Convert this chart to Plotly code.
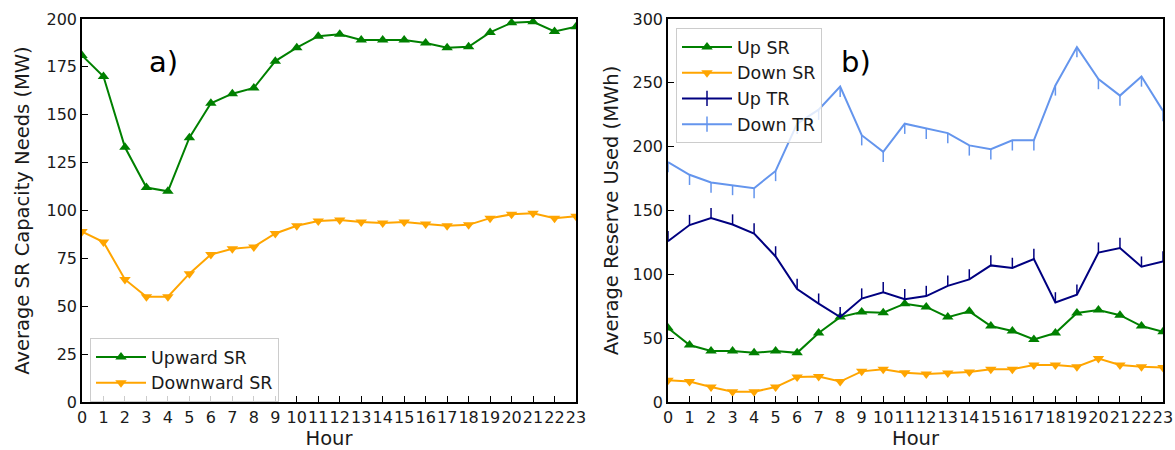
import plotly.graph_objects as go

hours = list(range(24))
tick_labels = [str(h) for h in hours]

upward_sr = [181, 170, 133, 112, 110, 138, 156, 161, 164, 178, 185, 191, 192, 189, 189, 189,
             187.5, 185, 185.5, 193, 198, 198.5, 193.5, 196]
downward_sr = [89, 83.5, 64, 55, 55, 67, 77, 80, 81, 88, 92, 94.5, 95, 94, 93.5, 94,
               93, 92, 92.5, 96, 98, 98.5, 96, 97]

up_sr = [58, 44.6, 40, 40, 38.5, 40, 38.5, 54, 66.5, 70.5, 70, 77, 74.5, 66.5, 71, 59.5,
         55.6, 49, 54, 69.7, 72, 68, 59.5, 55]
down_sr = [17, 16, 11.7, 8, 8, 11.7, 19.6, 20, 16, 24, 25.6, 23, 22, 22.7, 23.5, 25.6,
           25.6, 29, 29, 27.6, 34, 29, 27.6, 27]
up_tr = [126, 138.6, 144, 139, 132, 114, 88.5, 77, 66.5, 81, 86, 80.5, 83, 91, 96, 107,
         105, 112, 78, 84, 117, 120.6, 106, 110]
down_tr = [188, 178, 172, 170, 167.5, 181, 218, 229, 247, 209, 196, 218, 214, 210.6, 201, 198,
           205, 205, 248, 278, 253, 240, 255, 228]

GREEN = "#008000"
ORANGE = "#FFA500"
NAVY = "#000080"
CBLUE = "#6495ED"
FONT = "DejaVu Sans"
TXT = "#1a1a1a"

fig = go.Figure()

# Left panel
fig.add_trace(go.Scatter(x=hours, y=upward_sr, mode="lines+markers", name="Upward SR",
                         line=dict(color=GREEN, width=2),
                         marker=dict(symbol="triangle-up", size=10, color=GREEN),
                         xaxis="x", yaxis="y", legend="legend"))
fig.add_trace(go.Scatter(x=hours, y=downward_sr, mode="lines+markers", name="Downward SR",
                         line=dict(color=ORANGE, width=2),
                         marker=dict(symbol="triangle-down", size=10, color=ORANGE),
                         xaxis="x", yaxis="y", legend="legend"))

# Right panel
fig.add_trace(go.Scatter(x=hours, y=up_sr, mode="lines+markers", name="Up SR",
                         line=dict(color=GREEN, width=2),
                         marker=dict(symbol="triangle-up", size=10, color=GREEN),
                         xaxis="x2", yaxis="y2", legend="legend2"))
fig.add_trace(go.Scatter(x=hours, y=down_sr, mode="lines+markers", name="Down SR",
                         line=dict(color=ORANGE, width=2),
                         marker=dict(symbol="triangle-down", size=10, color=ORANGE),
                         xaxis="x2", yaxis="y2", legend="legend2"))

tick_len = 8
fig.add_trace(go.Scatter(x=hours, y=up_tr, mode="lines", name="Up TR", showlegend=False,
                         line=dict(color=NAVY, width=2),
                         error_y=dict(type="data", symmetric=False, array=[tick_len] * 24,
                                      arrayminus=[0] * 24, color=NAVY, thickness=1.5, width=0),
                         xaxis="x2", yaxis="y2"))
fig.add_trace(go.Scatter(x=hours, y=down_tr, mode="lines", name="Down TR", showlegend=False,
                         line=dict(color=CBLUE, width=2),
                         error_y=dict(type="data", symmetric=False, array=[0] * 24,
                                      arrayminus=[tick_len] * 24, color=CBLUE, thickness=1.5, width=0),
                         xaxis="x2", yaxis="y2"))
# legend entries for TR series
fig.add_trace(go.Scatter(x=[None], y=[None], mode="lines+markers", name="Up TR",
                         line=dict(color=NAVY, width=2),
                         marker=dict(symbol="line-ns-open", size=11, line=dict(color=NAVY, width=1.5)),
                         xaxis="x2", yaxis="y2", legend="legend2"))
fig.add_trace(go.Scatter(x=[None], y=[None], mode="lines+markers", name="Down TR",
                         line=dict(color=CBLUE, width=2),
                         marker=dict(symbol="line-ns-open", size=11, line=dict(color=CBLUE, width=1.5)),
                         xaxis="x2", yaxis="y2", legend="legend2"))

x1d = [82 / 1175, 576 / 1175]
x2d = [668 / 1175, 1163 / 1175]
yd = [1 - 402 / 450, 1 - 19 / 450]

axis_common = dict(showline=True, linecolor="black", linewidth=1.5, mirror=True,
                   ticks="inside", ticklen=6, tickwidth=1.2, tickcolor="black",
                   showgrid=False, zeroline=False, automargin=False, tickangle=0,
                   tickfont=dict(family=FONT, size=16, color=TXT),
                   title_font=dict(family=FONT, size=19.5, color=TXT))

xcommon = dict(axis_common, range=[0, 23], tickmode="array", tickvals=hours, ticktext=tick_labels,
               title_text="Hour", title_standoff=4)

legend_common = dict(xanchor="left", yanchor="top", itemwidth=50,
                     bgcolor="rgba(255,255,255,0.8)", bordercolor="#cccccc", borderwidth=1,
                     font=dict(family=FONT, size=17.5, color=TXT), tracegroupgap=0)

fig.update_layout(
    width=1175, height=450,
    margin=dict(l=0, r=0, t=0, b=0),
    paper_bgcolor="white", plot_bgcolor="white",
    font=dict(family=FONT, color=TXT),
    xaxis=dict(xcommon, domain=x1d, anchor="y"),
    yaxis=dict(axis_common, domain=yd, anchor="x", range=[0, 200], tickvals=list(range(0, 201, 25)),
               title_text="Average SR Capacity Needs (MW)", title_standoff=12),
    xaxis2=dict(xcommon, domain=x2d, anchor="y2"),
    yaxis2=dict(axis_common, domain=yd, anchor="x2", range=[0, 300], tickvals=list(range(0, 301, 50)),
                title_text="Average Reserve Used (MWh)", title_standoff=9),
    legend=dict(legend_common, x=90 / 1175, y=1 - 338 / 450),
    legend2=dict(legend_common, x=676 / 1175, y=1 - 28 / 450),
    annotations=[
        dict(text="a)", x=163 / 1175, y=1 - 62 / 450, xref="paper", yref="paper",
             xanchor="center", yanchor="middle",
             showarrow=False, font=dict(family=FONT, size=29, color="black")),
        dict(text="b)", x=856 / 1175, y=1 - 62 / 450, xref="paper", yref="paper",
             xanchor="center", yanchor="middle",
             showarrow=False, font=dict(family=FONT, size=29, color="black")),
    ],
)

fig.write_html("out.html")
